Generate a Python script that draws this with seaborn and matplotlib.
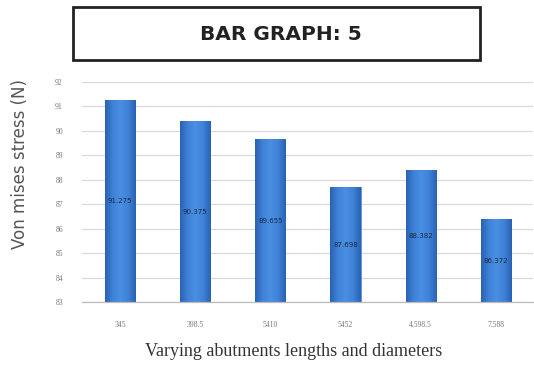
import matplotlib
matplotlib.use("Agg")
import matplotlib.pyplot as plt
import seaborn as sns
import pandas as pd
import numpy as np
from matplotlib.patches import Rectangle
from matplotlib.colors import LinearSegmentedColormap

categories = ["345", "398.5", "5410", "5452", "4.598.5", "7.588"]
values = [91.25, 90.37, 89.66, 87.70, 88.38, 86.37]
value_labels = ["91.275", "90.375", "89.655", "87.698", "88.382", "86.372"]
y_ticks = [83, 84, 85, 86, 87, 88, 89, 90, 91, 92]

df = pd.DataFrame({"cat": categories, "val": values})

sns.set_theme(style="white")
fig = plt.figure(figsize=(5.34, 3.67), dpi=100)
ax = fig.add_axes([82.4 / 534, 1 - 302 / 367, 451 / 534, 220 / 367])

sns.barplot(data=df, x="cat", y="val", color="#3473c8", width=0.4,
            saturation=1, ax=ax, edgecolor="#5b93d8", linewidth=0.6)

ymin, ymax = 83, 92
ax.set_ylim(ymin, ymax)
ax.set_xlim(-0.5, len(categories) - 0.5)

# horizontal gradient inside each bar
cmap = LinearSegmentedColormap.from_list(
    "barg", ["#2a62b4", "#3f82d8", "#4a8fe2", "#3f82d8", "#2a62b4"])
grad = np.linspace(0, 1, 64).reshape(1, -1)
for p in list(ax.patches):
    x0, y0 = p.get_x(), p.get_y()
    w, h = p.get_width(), p.get_height()
    top = y0 + h
    im = ax.imshow(grad, cmap=cmap, aspect="auto",
                   extent=[x0, x0 + w, max(y0, ymin), min(top, ymax)],
                   zorder=p.get_zorder() + 0.1)
ax.set_ylim(ymin, ymax)
ax.set_xlim(-0.5, len(categories) - 0.5)

ax.set_yticks(y_ticks)
ax.set_yticklabels([str(t) for t in y_ticks], fontsize=5.5, color="#777777",
                   family="Liberation Serif")
ax.set_xticks(range(len(categories)))
ax.set_xticklabels(categories, fontsize=5.5, color="#777777", family="Liberation Serif")
ax.tick_params(axis="x", length=0, pad=14)
ax.tick_params(axis="y", length=0, pad=14)
ax.yaxis.grid(True, color="#d9d9d9", linewidth=0.9)
ax.set_axisbelow(True)
for s in ["top", "right", "left"]:
    ax.spines[s].set_visible(False)
ax.spines["bottom"].set_color("#bbbbbb")
ax.spines["bottom"].set_linewidth(0.9)
ax.spines["bottom"].set_zorder(5)

for i, (v, lab) in enumerate(zip(values, value_labels)):
    ax.text(i, (83 + v) / 2, lab, ha="center", va="center", fontsize=5,
            color="#1a2a40", zorder=10)

ax.set_xlabel("")
ax.set_ylabel("")
fig.text(294 / 534, 1 - 352 / 367, "Varying abutments lengths and diameters",
         ha="center", va="center", fontsize=13, family="Liberation Serif",
         color="#333333")
fig.text(20 / 534, 1 - 164 / 367, "Von mises stress (N)", rotation=90,
         ha="center", va="center", fontsize=12, color="#555555")

rect = Rectangle((73 / 534, 1 - 60 / 367), 407 / 534, 53 / 367,
                 transform=fig.transFigure, fill=False, edgecolor="#222222",
                 linewidth=2)
fig.patches.append(rect)
fig.text(281 / 534, 1 - 34 / 367, "BAR GRAPH: 5", ha="center", va="center",
         fontsize=14.5, fontweight="bold", color="#222222")

fig.savefig("out.png", dpi=100, facecolor="white")
